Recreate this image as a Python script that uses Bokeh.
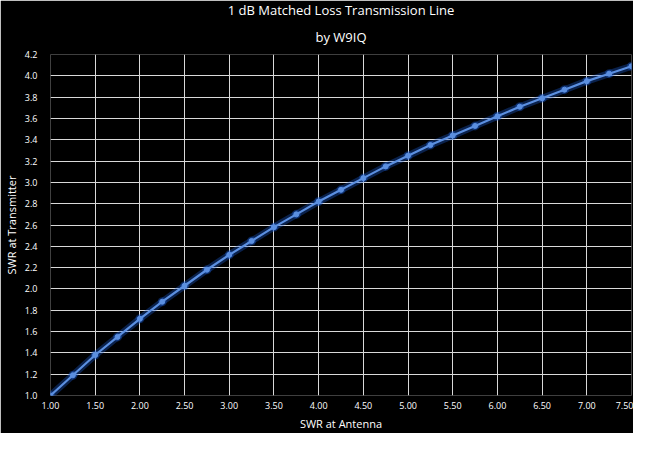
from bokeh.plotting import figure
from bokeh.models import Title, FixedTicker, NumeralTickFormatter, Range1d
from bokeh.embed import file_html
from bokeh.resources import INLINE

swr_antenna = [1.00, 1.25, 1.50, 1.75, 2.00, 2.25, 2.50, 2.75, 3.00, 3.25, 3.50, 3.75, 4.00,
               4.25, 4.50, 4.75, 5.00, 5.25, 5.50, 5.75, 6.00, 6.25, 6.50, 6.75, 7.00, 7.25, 7.50]
swr_transmitter = [1.00, 1.19, 1.38, 1.55, 1.72, 1.88, 2.03, 2.18, 2.32, 2.45, 2.58, 2.70, 2.82,
                   2.93, 3.04, 3.15, 3.25, 3.35, 3.44, 3.53, 3.62, 3.71, 3.79, 3.87, 3.95, 4.02, 4.09]
x_ticks = [1.0, 1.5, 2.0, 2.5, 3.0, 3.5, 4.0, 4.5, 5.0, 5.5, 6.0, 6.5, 7.0, 7.5]
y_ticks = [1.0, 1.2, 1.4, 1.6, 1.8, 2.0, 2.2, 2.4, 2.6, 2.8, 3.0, 3.2, 3.4, 3.6, 3.8, 4.0, 4.2]

FONT = "Open Sans"

p = figure(width=633, height=433, output_backend="svg", toolbar_location=None,
           x_range=Range1d(1.0, 7.5), y_range=Range1d(1.0, 4.2),
           background_fill_color="black", border_fill_color="black",
           min_border_left=0, min_border_right=2, min_border_top=43, min_border_bottom=0,
           title=None)
p.outline_line_color = None

p.add_layout(Title(text="by W9IQ", align="center", text_color="white",
                   text_font=FONT, text_font_size="13px", text_font_style="normal",
                   standoff=17), "above")
p.add_layout(Title(text="1 dB Matched Loss Transmission Line", align="center", text_color="white",
                   text_font=FONT, text_font_size="13px", text_font_style="normal",
                   standoff=-3), "above")

for ax in (p.xaxis[0], p.yaxis[0]):
    ax.axis_line_color = None
    ax.major_tick_line_color = None
    ax.minor_tick_line_color = None
    ax.major_label_text_color = "white"
    ax.major_label_text_font = FONT
    ax.major_label_text_font_size = "9px"
    ax.axis_label_text_color = "white"
    ax.axis_label_text_font = FONT
    ax.axis_label_text_font_size = "11px"
    ax.axis_label_text_font_style = "normal"

p.xaxis.ticker = FixedTicker(ticks=x_ticks)
p.yaxis.ticker = FixedTicker(ticks=y_ticks)
p.xaxis.formatter = NumeralTickFormatter(format="0.00")
p.yaxis.formatter = NumeralTickFormatter(format="0.0")
p.xaxis.axis_label = "SWR at Antenna"
p.yaxis.axis_label = "SWR at Transmitter"
p.xaxis.major_label_standoff = 0
p.yaxis.major_label_standoff = 7
p.xaxis.axis_label_standoff = 4
p.yaxis.axis_label_standoff = 3

p.xgrid.ticker = FixedTicker(ticks=x_ticks)
p.ygrid.ticker = FixedTicker(ticks=y_ticks)
p.grid.grid_line_color = "#d9d9d9"
p.grid.grid_line_width = 1

# glow
p.line(swr_antenna, swr_transmitter, line_color="#1c5fd6", line_width=7, line_alpha=0.35)
p.scatter(swr_antenna, swr_transmitter, size=9, fill_color="#1c5fd6", line_color=None, fill_alpha=0.35)
# main line and markers
p.line(swr_antenna, swr_transmitter, line_color="#5b8fe0", line_width=2.2)
p.scatter(swr_antenna, swr_transmitter, size=5, fill_color="#5b8fe0", line_color="#5b8fe0")

open("out.html", "w").write(file_html(p, INLINE))
